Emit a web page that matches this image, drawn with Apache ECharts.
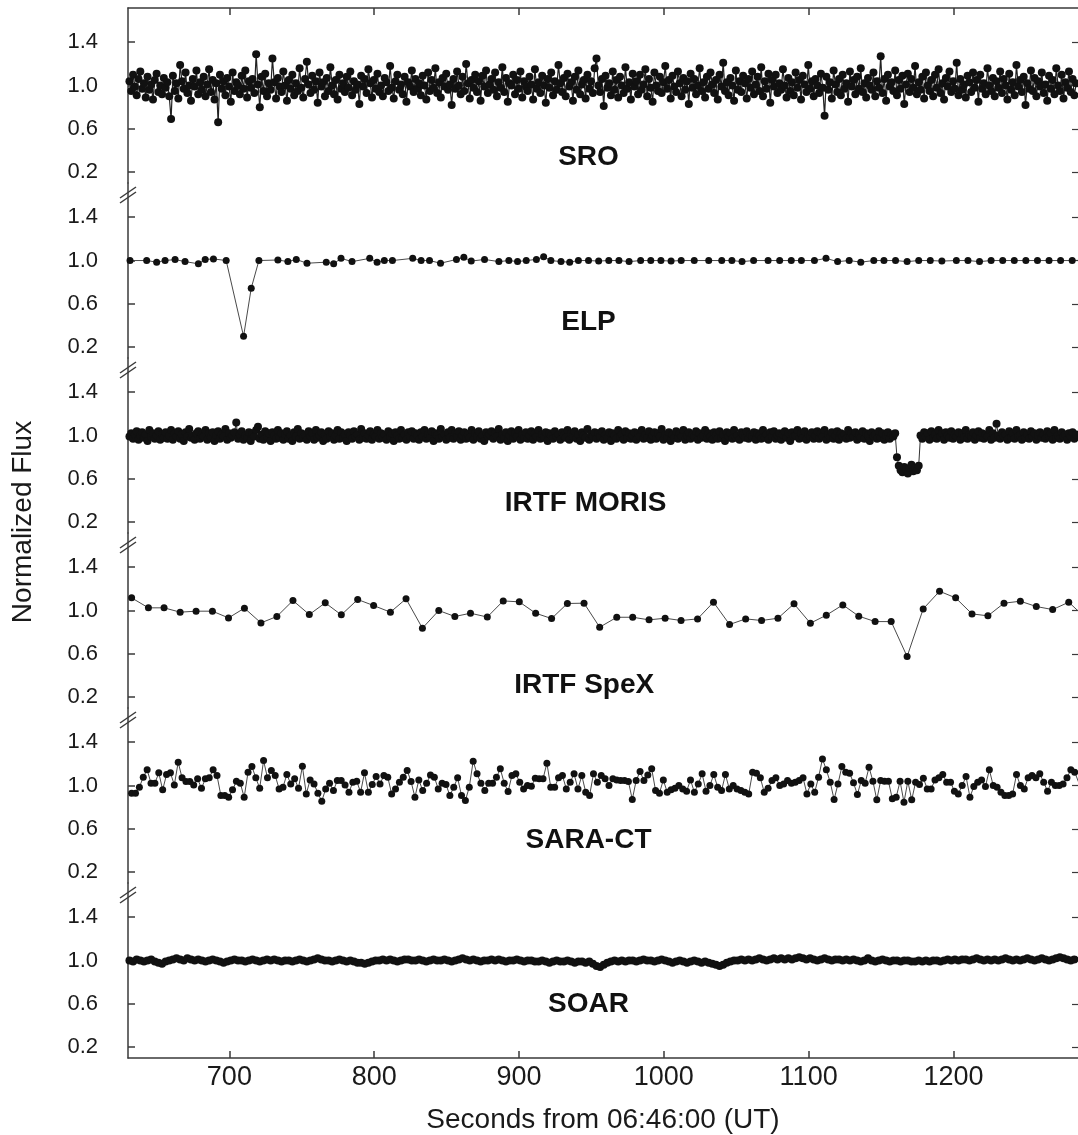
<!DOCTYPE html>
<html lang="en">
<head>
<meta charset="UTF-8">
<title>Normalized flux light curves</title>
<script src="https://cdn.jsdelivr.net/npm/echarts@6/dist/echarts.min.js"></script>
<style>html,body{margin:0;padding:0;background:#fff;}</style>
</head>
<body>
<div id="chart" style="width:1078px;height:1135px;"></div>
<script>
// axes
const xMin = 630, xMax = 1286;
const xTicks = [700, 800, 900, 1000, 1100, 1200];
const yMin = 0.1, yMax = 1.716;
const yTicks = [0.2, 0.6, 1.0, 1.4];
const panelNames = ['SRO', 'ELP', 'IRTF MORIS', 'IRTF SpeX', 'SARA-CT', 'SOAR'];
// where each panel's name sits, [seconds, flux]
const labelAt = [[948, 0.335], [948, 0.428], [946, 0.372], [945, 0.308], [948, 0.49], [948, 0.60]];

// SRO: evenly sampled, start + cadence (s)
const sroStart = 631, sroStep = 1.25;
const sroFlux = [
  1.04,0.95,1.10,0.99,0.91,1.06,1.13,0.97,1.02,0.89,1.08,0.96,1.01,0.87,1.05,1.11,0.94,1.00,0.92,1.07,
  0.98,1.03,0.90,0.69,1.09,0.95,1.02,0.88,1.19,1.04,0.97,1.12,0.93,1.00,0.86,1.06,0.99,1.14,0.92,1.03,
  0.96,1.08,0.90,1.01,1.15,0.94,1.05,0.87,1.02,0.66,1.10,0.97,1.04,0.91,1.07,0.99,0.85,1.12,0.95,1.03,
  1.00,0.92,1.09,0.97,1.14,0.89,1.04,0.98,1.06,0.93,1.29,1.01,0.80,1.08,0.95,1.11,0.90,1.02,0.96,1.25,
  1.03,0.88,1.07,0.99,0.94,1.13,1.00,0.86,1.05,0.97,1.10,0.91,1.02,0.95,1.16,0.98,0.89,1.06,1.22,1.01,
  0.93,1.09,0.96,1.04,0.84,1.12,0.99,1.03,0.90,1.07,0.95,1.17,1.00,0.92,1.05,0.87,1.10,0.97,1.02,0.94,
  1.08,0.98,1.13,0.91,1.04,0.96,1.01,0.83,1.09,0.99,1.06,0.93,1.15,1.02,0.89,1.05,0.97,1.11,0.94,1.00,
  0.90,1.07,1.03,0.95,1.18,0.98,0.88,1.04,1.10,0.96,1.01,0.92,1.08,0.85,1.03,0.99,1.14,0.94,1.06,0.97,
  1.02,0.91,1.09,1.00,0.87,1.12,0.95,1.05,0.98,1.16,0.93,1.03,0.89,1.07,0.99,1.11,0.96,1.01,0.82,1.06,
  0.97,1.13,1.00,0.92,1.08,0.95,1.20,1.02,0.88,1.05,0.98,1.10,0.94,1.04,0.86,1.09,0.99,1.14,0.93,1.01,
  1.06,0.96,1.12,0.90,1.03,0.98,1.17,0.94,1.07,0.85,1.02,1.00,1.10,0.92,1.05,0.97,1.13,0.89,1.04,0.99,
  0.95,1.08,1.01,0.87,1.15,0.97,1.03,0.93,1.09,1.00,0.84,1.06,0.98,1.12,0.91,1.04,0.96,1.19,1.02,0.94,
  1.07,0.90,1.11,0.99,1.03,0.86,1.08,0.96,1.14,0.92,1.01,1.05,0.88,1.10,0.97,1.04,0.93,1.16,1.25,1.00,
  0.94,1.06,0.81,1.09,0.98,1.02,0.91,1.13,0.96,1.05,0.89,1.08,1.00,0.93,1.17,0.97,1.03,0.87,1.11,0.99,
  1.04,0.92,1.10,0.96,1.01,1.15,0.90,1.06,0.98,0.85,1.12,1.00,0.95,1.08,0.93,1.03,1.18,0.97,1.05,0.88,
  1.09,0.99,0.94,1.13,1.02,0.90,1.07,0.96,1.04,0.83,1.11,0.98,1.06,0.92,1.00,1.16,0.95,1.03,0.89,1.08,
  0.97,1.12,1.01,0.93,1.05,0.87,1.10,0.99,1.21,0.95,1.03,0.91,1.07,1.00,0.86,1.14,0.96,1.04,0.94,1.09,
  1.02,0.88,1.06,0.98,1.13,0.92,1.01,1.08,0.95,1.17,0.90,1.04,0.97,1.11,0.84,1.05,0.99,1.10,0.93,1.02,
  0.96,1.15,1.00,0.89,1.07,0.95,1.03,0.91,1.12,0.98,1.05,0.87,1.09,1.01,0.94,1.19,0.97,1.04,0.90,1.06,
  1.00,0.93,1.11,0.98,0.72,1.08,0.96,1.03,0.88,1.14,1.01,0.94,1.06,0.91,1.10,0.97,1.02,0.85,1.13,0.99,
  1.05,0.92,1.08,0.97,1.16,0.94,1.02,0.89,1.07,1.00,0.96,1.12,0.90,1.04,0.98,1.27,0.93,1.06,0.86,1.10,
  0.99,1.03,0.95,1.14,0.91,1.05,0.97,1.09,0.83,1.01,1.11,0.94,1.06,0.98,1.18,0.92,1.03,0.96,1.08,0.88,
  1.12,1.00,0.95,1.05,0.90,1.10,0.98,1.15,0.93,1.02,0.87,1.07,0.99,1.13,0.94,1.04,0.97,1.21,0.91,1.06,
  0.96,1.01,0.89,1.09,1.03,0.94,1.12,0.98,1.05,0.85,1.10,0.97,1.02,0.92,1.16,1.00,0.95,1.07,0.90,1.04,
  0.98,1.13,0.93,1.06,1.00,0.87,1.11,0.96,1.03,0.91,1.19,0.99,1.05,0.94,1.08,0.82,1.02,0.97,1.14,0.95,
  1.07,0.90,1.04,0.99,1.12,0.93,1.01,0.86,1.09,0.97,1.05,0.92,1.16,1.00,0.95,1.10,0.88,1.03,0.98,1.13,
  0.94,1.06,0.91,1.02
];

// ELP: [seconds, flux]
const elpPoints = [
  [631.4,1.0],[642.9,1.0],[649.8,0.985],[655.6,1.0],[662.5,1.009],[669.4,0.99],[678.6,0.97],[683.3,1.01],
  [689.0,1.015],[697.8,1.0],[709.8,0.30],[715.1,0.745],[720.4,1.0],[733.5,1.005],[740.4,0.99],[746.2,1.01],
  [753.6,0.975],[766.9,0.985],[772.0,0.97],[777.1,1.02],[784.7,0.99],[796.9,1.02],[802.0,0.985],[807.0,1.0],
  [812.6,1.0],[826.6,1.02],[832.4,1.0],[838.2,1.0],[845.8,0.975],[856.8,1.01],[861.9,1.03],[867.0,0.995],
  [876.2,1.01],[886.1,0.99],[893,1.0],[899,0.99],[905,1.0],[912,1.01],[917,1.035],[922,1.0],[929,0.99],
  [935,0.985],[941,1.0],[948,1.0],[955,0.995],[962,1.0],[969,1.0],[976,0.99],[984,1.0],[991,1.0],[998,1.0],
  [1005,0.995],[1012,1.0],[1021,1.0],[1031,1.0],[1040,1.0],[1047,1.0],[1054,0.99],[1062,1.0],[1072,1.0],
  [1080,1.0],[1088,1.0],[1095,1.0],[1104,1.0],[1112,1.02],[1120,0.99],[1128,1.0],[1136,0.985],[1145,1.0],
  [1152,1.0],[1160,1.0],[1168,0.99],[1176,1.0],[1184,1.0],[1192,0.995],[1202,1.0],[1210,1.0],[1218,0.99],
  [1226,1.0],[1234,1.0],[1242,1.0],[1250,1.0],[1258,1.0],[1266,1.0],[1274,1.0],[1282,1.0]
];

// IRTF MORIS: evenly sampled
const morisStart = 631, morisStep = 1.25;
const morisFlux = [
  0.99,1.02,0.97,1.01,1.04,0.96,1.00,1.03,0.98,1.01,0.95,1.05,0.99,1.02,0.97,1.00,1.04,0.96,1.01,0.98,
  1.03,0.97,1.00,1.05,0.96,1.02,0.99,1.04,0.97,1.01,0.95,1.03,0.99,1.06,0.98,1.00,0.96,1.02,1.04,0.97,
  1.01,0.99,1.05,0.96,1.02,0.98,1.03,0.95,1.00,1.04,0.97,1.01,0.99,1.06,0.96,1.02,0.98,1.00,1.03,1.12,
  0.97,1.01,1.04,0.96,1.00,0.98,1.03,0.95,1.02,0.99,1.05,1.08,0.97,1.01,0.96,1.04,0.99,1.02,0.95,1.03,
  1.00,0.97,1.05,0.98,1.02,0.96,1.01,1.04,0.97,1.00,0.95,1.03,0.99,1.06,0.97,1.02,0.98,1.01,0.96,1.04,
  0.99,1.02,0.96,1.05,0.98,1.00,1.03,0.95,1.01,0.97,1.04,0.99,1.02,0.96,1.00,1.05,0.97,1.03,0.98,1.01,
  0.95,1.03,1.00,0.97,1.04,0.99,1.01,0.96,1.06,0.98,1.02,0.97,1.00,1.04,0.96,1.01,0.99,1.05,0.97,1.02,
  0.98,1.01,0.96,1.04,0.99,1.02,0.95,1.03,1.00,0.97,1.05,0.98,1.01,0.96,1.03,0.99,1.04,0.97,1.02,1.00,
  0.96,1.03,0.99,1.05,0.97,1.01,0.98,1.04,0.95,1.02,1.00,0.97,1.06,0.99,1.01,0.96,1.03,0.98,1.05,0.97,
  1.02,0.99,1.04,0.96,1.00,1.03,0.97,1.01,0.98,1.05,0.96,1.02,0.99,1.04,0.97,1.00,0.95,1.03,0.99,1.01,
  1.04,0.97,1.02,0.99,1.06,0.96,1.01,0.98,1.03,0.95,1.00,1.04,0.97,1.02,0.99,1.05,0.96,1.01,0.98,1.03,
  0.97,1.00,1.04,0.96,1.02,0.99,1.05,0.97,1.01,0.98,1.03,0.95,1.02,1.00,0.97,1.04,0.99,1.01,0.96,1.03,
  1.00,0.98,1.05,0.96,1.02,0.99,1.04,0.97,1.01,0.95,1.03,1.00,0.98,1.06,0.96,1.01,0.99,1.03,0.97,1.02,
  0.99,1.04,0.96,1.01,0.98,1.03,0.95,1.02,1.00,0.97,1.05,0.99,1.01,0.96,1.04,0.98,1.02,0.97,1.00,1.03,
  0.96,1.02,0.99,1.05,0.97,1.01,0.98,1.04,0.96,1.00,1.03,0.97,1.02,0.99,1.06,0.96,1.01,0.98,1.03,0.95,
  1.01,0.98,1.04,0.97,1.02,0.99,1.05,0.96,1.00,1.03,0.97,1.01,0.99,1.04,0.96,1.02,0.98,1.00,1.05,0.97,
  1.02,0.99,0.96,1.03,1.00,0.97,1.04,0.98,1.01,0.95,1.03,0.99,1.02,0.97,1.05,0.98,1.00,0.96,1.03,1.01,
  0.98,1.04,0.97,1.01,0.99,1.03,0.96,1.02,1.00,0.97,1.05,0.98,1.01,0.96,1.03,0.99,1.04,0.97,1.00,1.02,
  0.96,1.01,1.04,0.98,1.02,0.95,1.03,0.99,1.00,1.05,0.97,1.02,0.98,1.04,0.96,1.01,0.99,1.03,0.97,1.00,
  1.04,0.97,1.02,0.99,1.05,0.96,1.01,0.98,1.03,0.97,1.00,1.04,0.96,1.02,0.99,1.01,0.97,1.05,0.98,1.02,
  0.99,1.03,0.96,1.01,0.98,1.04,0.97,1.02,1.00,0.95,1.03,0.99,1.01,0.97,1.04,0.98,1.02,0.96,1.00,1.03,
  0.97,1.01,0.99,1.02,0.80,0.72,0.68,0.66,0.71,0.69,0.65,0.70,0.73,0.67,0.70,0.68,0.72,1.00,0.97,1.03,
  0.99,1.02,0.96,1.04,0.98,1.01,0.97,1.05,0.99,1.02,0.96,1.03,1.00,0.98,1.04,0.97,1.01,0.99,1.03,0.96,
  1.02,0.98,1.05,0.97,1.01,0.99,1.03,0.96,1.00,1.04,0.98,1.02,0.97,1.01,0.99,1.05,0.96,1.02,0.98,1.11,
  1.00,0.97,1.03,0.99,1.01,0.96,1.04,0.98,1.02,0.97,1.05,0.99,1.00,0.96,1.03,0.98,1.01,0.97,1.04,0.99,
  1.02,0.96,1.00,1.03,0.98,1.01,0.97,1.04,0.99,1.02,0.96,1.05,0.98,1.00,0.97,1.03,0.99,1.01,0.96,1.02,
  0.99,1.03,0.97,1.01
];

// IRTF SpeX: [seconds, flux]
const spexPoints = [
  [632.5,1.117],[644.1,1.025],[654.9,1.025],[666.0,0.985],[677.0,0.994],[688.3,0.994],[699.4,0.932],
  [710.4,1.022],[721.8,0.886],[732.8,0.945],[743.9,1.092],[755.2,0.963],[766.2,1.071],[777.3,0.96],
  [788.6,1.102],[799.6,1.046],[811.2,0.985],[822.0,1.108],[833.3,0.837],[844.6,1.0],[855.7,0.945],
  [866.5,0.975],[878.1,0.94],[889.1,1.089],[900.2,1.08],[911.5,0.975],[922.5,0.926],[933.4,1.065],
  [944.9,1.068],[955.7,0.846],[967.5,0.938],[978.5,0.938],[989.8,0.914],[1000.9,0.929],[1011.9,0.908],
  [1023.3,0.923],[1034.3,1.077],[1045.4,0.871],[1056.5,0.923],[1067.5,0.908],[1078.8,0.929],[1089.9,1.062],
  [1101.2,0.883],[1112.2,0.957],[1123.6,1.052],[1134.6,0.948],[1145.9,0.898],[1157.0,0.898],[1168.0,0.575],
  [1179.1,1.015],[1190.4,1.178],[1201.5,1.117],[1212.8,0.969],[1223.8,0.951],[1234.9,1.068],[1246.2,1.086],
  [1257.2,1.037],[1268.5,1.009],[1279.6,1.077],[1286.5,0.991]
];

// SARA-CT: evenly sampled
const saraStart = 632.5, saraStep = 2.68;
const saraFlux = [
  0.929,0.929,0.985,1.077,1.145,1.022,1.022,1.117,0.96,1.102,
  1.117,1.006,1.215,1.071,1.037,1.037,1.006,1.062,0.975,1.062,
  1.071,1.145,1.092,0.908,0.908,0.892,0.96,1.04,1.022,0.892,
  1.123,1.175,1.071,0.975,1.231,1.071,1.138,1.092,0.969,0.985,
  1.102,1.015,1.062,0.975,1.178,0.923,1.052,1.015,0.929,0.855,
  0.969,1.022,0.954,1.046,1.046,1.006,0.938,1.031,1.04,0.938,
  1.117,0.938,1.009,1.083,1.015,1.092,1.077,0.923,0.969,1.031,
  1.077,1.138,1.037,0.892,1.052,0.954,1.022,1.098,1.077,0.969,
  1.022,1.009,0.908,0.985,1.071,0.908,0.862,0.985,1.225,1.108,
  1.022,0.954,1.022,1.022,1.077,1.154,1.022,0.945,1.092,1.108,
  1.031,0.969,1.0,0.994,1.068,1.062,1.062,1.206,0.985,0.985,
  1.071,1.092,0.969,1.031,1.108,0.969,1.092,0.938,0.908,1.108,
  1.031,
  1.092,1.062,1.0,1.062,1.052,1.046,1.046,1.037,0.871,1.046,
  1.129,1.046,1.098,1.154,0.954,0.929,1.052,0.938,0.96,0.975,
  1.0,0.969,0.948,1.052,0.938,1.015,1.108,0.948,1.0,1.102,
  0.985,0.954,1.102,0.969,1.0,0.969,0.954,0.938,0.923,1.123,
  1.114,1.071,0.938,0.975,1.046,1.071,1.0,1.015,1.046,1.022,
  1.031,1.046,1.071,0.923,1.015,0.938,1.077,1.246,1.145,1.031,
  0.871,1.015,1.175,1.123,1.114,1.025,0.917,1.046,1.022,1.169,
  1.04,0.868,1.046,1.04,1.04,0.877,0.892,1.04,0.846,1.04,
  0.868,1.031,1.009,1.068,0.969,0.969,1.052,1.071,1.102,1.031,
  1.031,0.948,0.923,1.0,1.083,0.892,0.991,1.031,1.052,0.991,
  1.145,1.0,0.985,0.938,0.908,0.908,0.923,1.102,1.0,0.969,
  1.071,1.092,1.071,1.108,1.031,0.948,1.031,1.0,1.0,1.015,
  1.071,1.145,1.123,1.031
];

// SOAR: evenly sampled
const soarStart = 631, soarStep = 2.5;
const soarFlux = [
  1.00,0.99,1.01,1.00,0.99,1.00,1.01,0.99,0.98,0.97,0.99,1.00,1.01,1.02,1.01,1.00,1.02,1.01,1.00,1.01,
  1.00,0.99,1.00,1.01,1.00,0.99,0.98,0.99,1.00,1.01,1.00,1.00,0.99,1.00,1.01,1.00,0.99,1.00,1.01,1.00,
  1.01,1.00,0.99,1.00,1.00,0.99,1.00,1.01,1.00,0.99,1.00,1.01,1.02,1.01,1.00,1.00,0.99,1.00,1.01,1.00,
  0.99,1.00,0.99,0.98,0.98,0.97,0.98,0.99,1.00,1.00,1.01,1.00,1.01,1.00,0.99,1.00,1.01,1.01,1.00,1.00,
  1.01,1.00,0.99,1.00,1.01,1.00,1.00,1.01,1.00,0.99,1.00,1.01,1.02,1.01,1.00,1.01,1.00,0.99,1.00,1.00,
  1.01,1.00,1.01,1.00,0.99,1.00,1.00,1.01,1.00,0.99,1.00,1.00,0.99,0.99,1.00,0.99,0.98,0.99,1.00,0.99,
  0.99,1.00,0.99,0.98,0.99,0.99,0.98,0.99,0.97,0.95,0.94,0.96,0.98,0.99,1.00,0.99,1.00,0.99,1.00,1.00,
  0.99,1.00,1.01,1.00,1.00,0.99,1.00,1.01,1.00,0.99,0.98,0.99,1.00,0.99,0.98,0.99,1.00,0.99,0.98,0.99,
  0.98,0.97,0.96,0.95,0.96,0.98,0.99,1.00,1.00,1.01,1.00,1.01,1.00,1.01,1.02,1.01,1.00,1.01,1.02,1.01,
  1.02,1.01,1.02,1.01,1.02,1.03,1.02,1.01,1.02,1.01,1.00,1.01,1.02,1.01,1.00,1.01,1.01,1.00,1.01,1.00,
  1.01,1.00,0.99,1.00,1.02,1.00,0.99,1.00,1.01,1.00,0.99,1.00,1.00,0.99,1.00,1.00,0.99,0.99,1.00,0.99,
  1.00,0.99,1.00,1.00,0.99,1.00,1.01,1.00,1.01,1.00,1.01,1.01,1.00,1.01,1.02,1.01,1.00,1.01,1.00,1.01,
  1.00,1.01,1.02,1.01,1.00,1.01,1.00,1.01,1.02,1.01,1.00,1.01,1.02,1.01,1.00,1.01,1.02,1.03,1.02,1.01,1.00,1.01
];

// time stamps for the evenly sampled series
const sampled = (start, step, flux) => flux.map((v, i) => [start + i * step, v]);

const panelData = [
  sampled(sroStart, sroStep, sroFlux),
  elpPoints,
  sampled(morisStart, morisStep, morisFlux),
  spexPoints,
  sampled(saraStart, saraStep, saraFlux),
  sampled(soarStart, soarStep, soarFlux)
];
const dotSize = [8, 7, 8, 7, 7, 8];
const lineW = [1.2, 1, 1, 1, 1, 2];
const lineColor = ['#222', '#4a4a4a', '#333', '#4a4a4a', '#4a4a4a', '#111'];

const FONT = '"Liberation Sans", Arial, Helvetica, sans-serif';
const top0 = 8, panelH = 175, gridLeft = 128;

const chart = echarts.init(document.getElementById('chart'));

const grids = [], xAxes = [], yAxes = [], series = [];
panelNames.forEach((name, i) => {
  grids.push({ left: gridLeft, right: 0, top: top0 + i * panelH, height: panelH });

  const isTop = i === 0, isBottom = i === panelNames.length - 1;
  xAxes.push({
    type: 'value', gridIndex: i, min: xMin, max: xMax,
    show: isTop || isBottom,
    position: isTop ? 'top' : 'bottom',
    splitLine: { show: false },
    axisLine: { show: true, onZero: false, lineStyle: { color: '#3a3a3a', width: 1.5 } },
    axisTick: { inside: true, length: 7, customValues: xTicks, lineStyle: { color: '#3a3a3a', width: 1.5 } },
    axisLabel: {
      show: isBottom, customValues: xTicks, margin: 6, formatter: v => String(v),
      fontFamily: FONT, fontSize: 27, color: '#1a1a1a'
    },
    name: isBottom ? 'Seconds from 06:46:00 (UT)' : '',
    nameLocation: 'middle', nameGap: 48,
    nameTextStyle: { fontFamily: FONT, fontSize: 28, color: '#1a1a1a' }
  });

  // left axis with labels
  yAxes.push({
    type: 'value', gridIndex: i, min: yMin, max: yMax, position: 'left',
    splitLine: { show: false },
    axisLine: { show: true, onZero: false, lineStyle: { color: '#3a3a3a', width: 1.5 } },
    axisTick: { inside: true, length: 7, customValues: yTicks, lineStyle: { color: '#3a3a3a', width: 1.5 } },
    axisLabel: {
      customValues: yTicks, margin: 30, formatter: v => v.toFixed(1),
      fontFamily: FONT, fontSize: 22, color: '#1a1a1a'
    }
  });
  // right side: ticks only
  yAxes.push({
    type: 'value', gridIndex: i, min: yMin, max: yMax, position: 'right',
    splitLine: { show: false },
    axisLine: { show: false },
    axisTick: { inside: true, length: 6, customValues: yTicks, lineStyle: { color: '#3a3a3a', width: 1.2 } },
    axisLabel: { show: false }
  });

  series.push({
    name: name, type: 'line', xAxisIndex: i, yAxisIndex: 2 * i,
    data: panelData[i],
    symbol: 'circle', symbolSize: dotSize[i], showAllSymbol: true,
    itemStyle: { color: '#111' },
    lineStyle: { color: lineColor[i], width: lineW[i] },
    emphasis: { disabled: true },
    silent: true
  });
});

chart.setOption({
  animation: false,
  backgroundColor: '#fff',
  grid: grids,
  xAxis: xAxes,
  yAxis: yAxes,
  series: series
});

// panel names, placed in data coordinates of each panel
const graphics = panelNames.map((name, i) => {
  const p = chart.convertToPixel({ gridIndex: i }, labelAt[i]);
  return {
    type: 'text', x: p[0], y: p[1], silent: true,
    style: { text: name, font: 'bold 28px ' + FONT, fill: '#111', align: 'center', verticalAlign: 'middle' }
  };
});

// y-axis title
graphics.push({
  type: 'text', x: 23, y: 522, rotation: Math.PI / 2, silent: true,
  style: { text: 'Normalized Flux', font: '28px ' + FONT, fill: '#1a1a1a', align: 'center', verticalAlign: 'middle' }
});

// axis breaks between the panels
for (let i = 1; i < panelNames.length; i++) {
  const cy = top0 + i * panelH + 11;
  graphics.push({
    type: 'polygon', silent: true,
    shape: { points: [[120, cy + 4], [136, cy - 7], [136, cy - 2], [120, cy + 9]] },
    style: { fill: '#fff' }
  });
  graphics.push({
    type: 'line', silent: true,
    shape: { x1: 120, y1: cy + 4, x2: 136, y2: cy - 7 },
    style: { stroke: '#3a3a3a', lineWidth: 1.5 }
  });
  graphics.push({
    type: 'line', silent: true,
    shape: { x1: 120, y1: cy + 9, x2: 136, y2: cy - 2 },
    style: { stroke: '#3a3a3a', lineWidth: 1.5 }
  });
}

chart.setOption({ graphic: graphics });
</script>
</body>
</html>
